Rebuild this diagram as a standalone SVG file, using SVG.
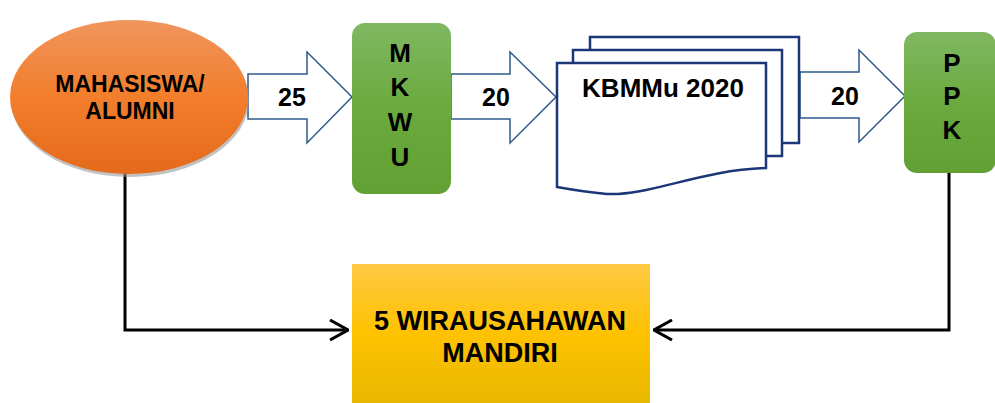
<svg xmlns="http://www.w3.org/2000/svg" width="995" height="403" viewBox="0 0 995 403">
<defs>
<linearGradient id="gOrange" x1="0" y1="0" x2="0" y2="1">
<stop offset="0" stop-color="#F0955E"/><stop offset="0.5" stop-color="#F27E2C"/><stop offset="1" stop-color="#E46A1B"/>
</linearGradient>
<linearGradient id="gGreen" x1="0" y1="0" x2="0" y2="1">
<stop offset="0" stop-color="#80B862"/><stop offset="0.5" stop-color="#6AAA3E"/><stop offset="1" stop-color="#62A033"/>
</linearGradient>
<linearGradient id="gYellow" x1="0" y1="0" x2="0" y2="1">
<stop offset="0" stop-color="#FFC843"/><stop offset="0.5" stop-color="#FEC200"/><stop offset="1" stop-color="#E9B700"/>
</linearGradient>
<marker id="chev" viewBox="0 0 20 22" refX="19" refY="11" markerWidth="20" markerHeight="22" markerUnits="userSpaceOnUse" orient="auto">
<path d="M1,1 L19,11 L1,21" fill="none" stroke="#000" stroke-width="3"/>
</marker>
</defs>
<style>
text{font-family:"Liberation Sans",Arial,sans-serif;font-weight:bold;fill:#000;text-anchor:middle}
.bigarrow{fill:#fff;stroke:#2E5B8C;stroke-width:1.5}
.doc{fill:#fff;stroke:#1B3778;stroke-width:2.5}
.conn{fill:none;stroke:#000;stroke-width:3}
</style>
<g id="connectors">
<polyline class="conn" points="125,173 125,330 348,330" marker-end="url(#chev)"/>
<polyline class="conn" points="949,173 949,330 654,330" marker-end="url(#chev)"/>
<g id="arrow-25">
<path class="bigarrow" d="M248,74 L307,74 L307,52 L352,97 L307,143 L307,119 L248,119 Z"/>
<text x="292" y="106" font-size="25">25</text>
</g>
<g id="arrow-20a">
<path class="bigarrow" d="M451,74 L510,74 L510,52 L556,97 L510,143 L510,119 L451,119 Z"/>
<text x="496" y="106" font-size="25">20</text>
</g>
<g id="arrow-20b">
<path class="bigarrow" d="M800,72 L859,72 L859,50 L905,96 L859,142 L859,118 L800,118 Z"/>
<text x="845" y="105" font-size="25">20</text>
</g>
</g>
<g id="mahasiswa">
<ellipse cx="130" cy="100" rx="119" ry="77" fill="#9a9a9a" opacity="0.6"/>
<ellipse cx="129" cy="97" rx="119" ry="77" fill="url(#gOrange)"/>
<text x="130" y="92" font-size="23">MAHASISWA/</text>
<text x="130" y="119" font-size="23">ALUMNI</text>
</g>
<g id="mkwu">
<rect x="352" y="23" width="99" height="171" rx="13" fill="url(#gGreen)"/>
<text x="400" y="62" font-size="26">M</text>
<text x="400" y="96" font-size="26">K</text>
<text x="400" y="131" font-size="26">W</text>
<text x="400" y="166" font-size="26">U</text>
</g>
<g id="kbmmu">
<rect class="doc" x="590" y="37" width="209" height="106"/>
<rect class="doc" x="573" y="50" width="209" height="106"/>
<path class="doc" d="M557,63 L766,63 L766,168 C700,170 650,196 607,194 Q585,192 557,187 Z"/>
<text x="663" y="97" font-size="26">KBMMu 2020</text>
</g>
<g id="ppk">
<rect x="904" y="32" width="92" height="141" rx="13" fill="url(#gGreen)"/>
<text x="952" y="72" font-size="26">P</text>
<text x="952" y="105" font-size="26">P</text>
<text x="952" y="139" font-size="26">K</text>
</g>
<g id="wirausahawan">
<rect x="352" y="264" width="298" height="140" fill="url(#gYellow)"/>
<text x="500" y="330" font-size="27">5 WIRAUSAHAWAN</text>
<text x="500" y="362" font-size="27">MANDIRI</text>
</g>
</svg>
